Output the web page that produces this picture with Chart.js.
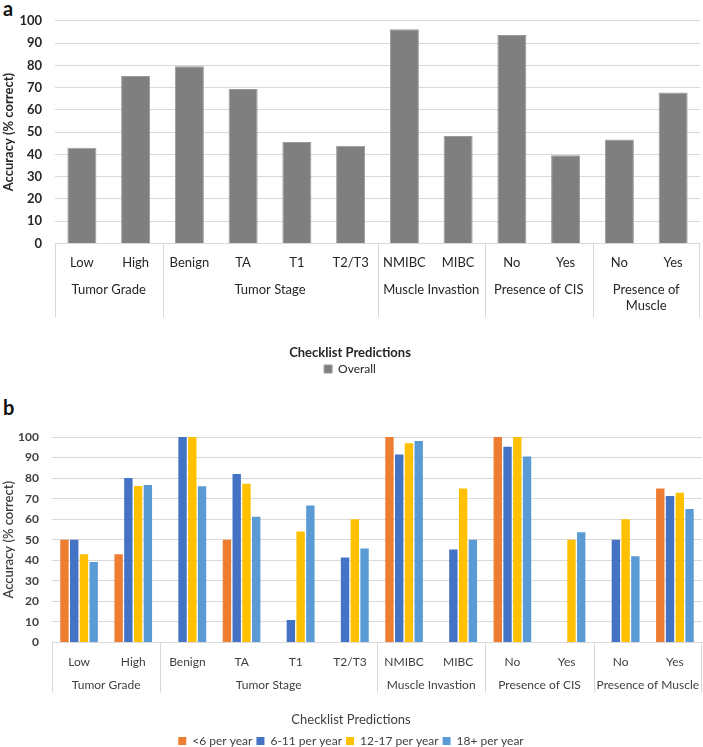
<!DOCTYPE html>
<html>
<head>
<meta charset="utf-8">
<script src="https://cdn.jsdelivr.net/npm/chart.js@4.4.3/dist/chart.umd.min.js"></script>
<style>
    html, body { margin: 0; padding: 0; background: #fff; overflow: hidden; }
    .panel { position: absolute; left: 0; }
    .panelLabel { position: absolute; left: 3px; font: bold 20px Lato, Arial, sans-serif; color: #111; }
</style>
</head>
<body>
<div class="panelLabel" style="top:-4px">a</div>
<canvas id="chartA" class="panel" style="top:0" width="703" height="385"></canvas>
<div class="panelLabel" style="top:395px">b</div>
<canvas id="chartB" class="panel" style="top:395px" width="703" height="362"></canvas>
<script>
// categories and groups of the two-level x axis
const categories = ['Low', 'High', 'Benign', 'TA', 'T1', 'T2/T3', 'NMIBC', 'MIBC', 'No', 'Yes', 'No', 'Yes'];
const groupNames = ['Tumor Grade', 'Tumor Stage', 'Muscle Invastion', 'Presence of CIS', 'Presence of Muscle'];
const groupSizes = [2, 4, 2, 2, 2];

// panel a
const overall = [43, 75.2, 79.6, 69.4, 45.5, 43.9, 96.2, 48.3, 93.6, 39.6, 46.7, 67.8];

// panel b (cystoscopies per year)
const perYearLabels = ['<6 per year', '6-11 per year', '12-17 per year', '18+ per year'];
const under6 = [50, 43, 0, 50, 0, 0, 100, 0, 100, 0, 0, 75];
const from6to11 = [50, 80, 100, 82, 11, 41.4, 91.5, 45.2, 95.2, 0, 50, 71.3];
const from12to17 = [43, 76.2, 100, 77.2, 54, 60, 96.9, 75, 100, 50, 60, 72.9];
const over18 = [39.2, 76.7, 76, 61.2, 66.7, 45.8, 98, 50, 90.5, 53.7, 42, 65];

const yTicks = { min: 0, max: 100, step: 10 };
const FONT = 'Lato, Arial, sans-serif';
const GRID = '#d9d9d9';

// draws the second row of the category axis (group names + dividers)
const groupAxis = {
    id: 'groupAxis',
    afterDraw(chart, args, opts) {
        const x = chart.scales.x;
        const n = categories.length;
        const ctx = chart.ctx;
        const edge = (i) => {
            if (i === 0) return x.left;
            if (i === n) return x.right;
            return (x.getPixelForTick(i - 1) + x.getPixelForTick(i)) / 2;
        };
        const bottom = chart.chartArea.bottom;

        ctx.save();
        ctx.strokeStyle = GRID;
        ctx.lineWidth = 1;
        ctx.fillStyle = opts.color;
        ctx.font = opts.font;
        ctx.textAlign = 'center';
        ctx.textBaseline = 'middle';

        let start = 0;
        groupSizes.forEach((size, g) => {
            const x0 = Math.round(edge(start)) + 0.5;
            ctx.beginPath();
            ctx.moveTo(x0, bottom);
            ctx.lineTo(x0, bottom + opts.depth);
            ctx.stroke();

            const mid = (edge(start) + edge(start + size)) / 2;
            const label = opts.wrap && opts.wrap[g] ? opts.wrap[g] : [groupNames[g]];
            label.forEach((line, k) => {
                ctx.fillText(line, mid, bottom + opts.offset + k * 16);
            });
            start += size;
        });
        const xEnd = Math.round(edge(n)) - 0.5;
        ctx.beginPath();
        ctx.moveTo(xEnd, bottom);
        ctx.lineTo(xEnd, bottom + opts.depth);
        ctx.stroke();
        ctx.restore();
    }
};

function makeChart(canvas, cfg) {
    return new Chart(canvas, {
        type: 'bar',
        data: { labels: categories, datasets: cfg.datasets },
        plugins: [groupAxis],
        options: {
            responsive: false,
            animation: false,
            layout: { padding: { top: cfg.top, right: cfg.right, left: 0, bottom: 0 } },
            datasets: { bar: cfg.bar },
            scales: {
                x: {
                    grid: { display: false },
                    border: { color: GRID },
                    ticks: { color: cfg.textColor, font: { family: FONT, size: cfg.tickSize }, padding: cfg.tickPad, maxRotation: 0, autoSkip: false },
                    afterFit: (scale) => { scale.height = cfg.xHeight; }
                },
                y: {
                    min: yTicks.min,
                    max: yTicks.max,
                    grid: { color: GRID, drawTicks: false },
                    border: { display: false },
                    ticks: { stepSize: yTicks.step, color: cfg.textColor, padding: 13, font: { family: FONT, size: cfg.ySize, weight: 'bold' } },
                    title: {
                        display: true,
                        text: 'Accuracy (% correct)',
                        color: cfg.textColor,
                        font: { family: FONT, size: 13, weight: cfg.yTitleWeight },
                        padding: { top: 1, bottom: 0 }
                    },
                    afterFit: (scale) => { scale.width = cfg.yWidth; }
                }
            },
            plugins: {
                // x axis title, centred on the whole chart like the original
                title: {
                    display: true,
                    position: 'bottom',
                    weight: 500,
                    text: 'Checklist Predictions',
                    color: cfg.textColor,
                    font: { family: FONT, size: 13, weight: cfg.titleWeight, lineHeight: 1 },
                    padding: { top: 0, bottom: cfg.titlePad }
                },
                legend: {
                    position: 'bottom',
                    labels: { boxWidth: 8, boxHeight: 8, padding: 4, color: cfg.textColor, font: { family: FONT, size: 12 } }
                },
                tooltip: { enabled: false },
                groupAxis: cfg.group
            }
        }
    });
}

makeChart(document.getElementById('chartA'), {
    datasets: [{ label: 'Overall', data: overall, backgroundColor: '#7f7f7f', borderColor: '#9a9a9a', borderWidth: 1 }],
    bar: { categoryPercentage: 1, barPercentage: 0.54 },
    top: 20, right: 3, yWidth: 55, xHeight: 102.6,
    tickSize: 13, tickPad: 4, ySize: 13,
    textColor: '#262626', titleWeight: 'bold', yTitleWeight: 'bold', titlePad: 0,
    group: { font: '13px ' + FONT, color: '#262626', offset: 46, depth: 74, wrap: { 4: ['Presence of', 'Muscle'] } }
});

makeChart(document.getElementById('chartB'), {
    datasets: [
        { label: perYearLabels[0], data: under6, backgroundColor: '#ed7d31' },
        { label: perYearLabels[1], data: from6to11, backgroundColor: '#4472c4' },
        { label: perYearLabels[2], data: from12to17, backgroundColor: '#ffc000' },
        { label: perYearLabels[3], data: over18, backgroundColor: '#5b9bd5' }
    ],
    bar: { categoryPercentage: 0.72, barPercentage: 0.86 },
    top: 42, right: 1, yWidth: 52, xHeight: 70.5,
    tickSize: 12, tickPad: 4, ySize: 12,
    textColor: '#404040', titleWeight: 'normal', yTitleWeight: '600', titlePad: 5,
    group: { font: '12px ' + FONT, color: '#404040', offset: 43, depth: 50 }
});
</script>
</body>
</html>
